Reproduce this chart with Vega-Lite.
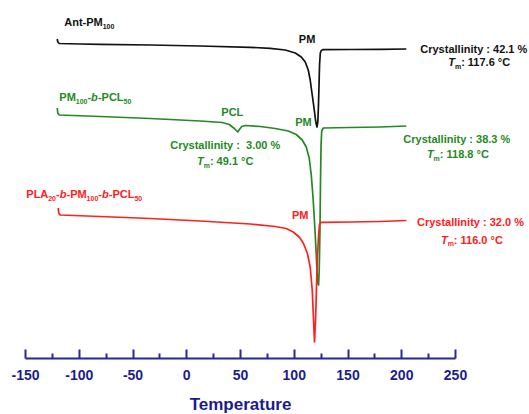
{
  "$schema": "https://vega.github.io/schema/vega-lite/v6.json",
  "width": 430,
  "height": 358,
  "autosize": {"type": "none"},
  "padding": {"left": 25, "right": 74, "top": 0, "bottom": 56},
  "background": "white",
  "config": {"view": {"stroke": null}},
  "datasets": {
    "curves": [
      {"s": "A", "t": -120.0, "v": 319}, {"s": "A", "t": -119.5, "v": 316}, {"s": "A", "t": -118.1, "v": 314.5},
      {"s": "A", "t": -98.6, "v": 314}, {"s": "A", "t": -80.0, "v": 313.7}, {"s": "A", "t": -33.5, "v": 313},
      {"s": "A", "t": 13.0, "v": 312}, {"s": "A", "t": 59.5, "v": 310.7}, {"s": "A", "t": 78.1, "v": 309.7},
      {"s": "A", "t": 92.1, "v": 308}, {"s": "A", "t": 101.4, "v": 305}, {"s": "A", "t": 107.0, "v": 301},
      {"s": "A", "t": 110.7, "v": 296}, {"s": "A", "t": 113.5, "v": 288}, {"s": "A", "t": 115.3, "v": 278},
      {"s": "A", "t": 117.2, "v": 263}, {"s": "A", "t": 119.1, "v": 248}, {"s": "A", "t": 120.5, "v": 236},
      {"s": "A", "t": 121.6, "v": 231}, {"s": "A", "t": 122.4, "v": 236}, {"s": "A", "t": 123.0, "v": 253},
      {"s": "A", "t": 123.5, "v": 273}, {"s": "A", "t": 124.0, "v": 293}, {"s": "A", "t": 124.7, "v": 305},
      {"s": "A", "t": 125.6, "v": 307.5}, {"s": "A", "t": 127.4, "v": 308.4}, {"s": "A", "t": 152.6, "v": 308.5},
      {"s": "A", "t": 180.5, "v": 308.7}, {"s": "A", "t": 204.7, "v": 309},

      {"s": "G", "t": -120.0, "v": 250}, {"s": "G", "t": -119.5, "v": 245}, {"s": "G", "t": -118.1, "v": 243},
      {"s": "G", "t": -80.0, "v": 241.5}, {"s": "G", "t": -33.5, "v": 239.5}, {"s": "G", "t": 13.0, "v": 237},
      {"s": "G", "t": 33.5, "v": 235.5}, {"s": "G", "t": 40.0, "v": 233.5}, {"s": "G", "t": 44.7, "v": 229.5},
      {"s": "G", "t": 47.9, "v": 226}, {"s": "G", "t": 49.8, "v": 229}, {"s": "G", "t": 51.6, "v": 231.5},
      {"s": "G", "t": 54.9, "v": 232.5}, {"s": "G", "t": 68.8, "v": 231.5}, {"s": "G", "t": 82.8, "v": 229.5},
      {"s": "G", "t": 94.9, "v": 227}, {"s": "G", "t": 102.3, "v": 223.5}, {"s": "G", "t": 107.9, "v": 218},
      {"s": "G", "t": 111.6, "v": 211}, {"s": "G", "t": 114.4, "v": 200}, {"s": "G", "t": 116.3, "v": 183},
      {"s": "G", "t": 118.1, "v": 158}, {"s": "G", "t": 120.0, "v": 123}, {"s": "G", "t": 121.4, "v": 93},
      {"s": "G", "t": 122.3, "v": 75}, {"s": "G", "t": 123.1, "v": 73}, {"s": "G", "t": 123.7, "v": 88},
      {"s": "G", "t": 124.4, "v": 128}, {"s": "G", "t": 124.9, "v": 178}, {"s": "G", "t": 125.4, "v": 213},
      {"s": "G", "t": 126.0, "v": 227}, {"s": "G", "t": 127.4, "v": 230}, {"s": "G", "t": 152.6, "v": 230.5},
      {"s": "G", "t": 180.5, "v": 231}, {"s": "G", "t": 204.7, "v": 232},

      {"s": "R", "t": -119.1, "v": 150}, {"s": "R", "t": -118.6, "v": 145}, {"s": "R", "t": -117.2, "v": 143},
      {"s": "R", "t": -80.0, "v": 141.5}, {"s": "R", "t": -33.5, "v": 139.5}, {"s": "R", "t": 13.0, "v": 137},
      {"s": "R", "t": 59.5, "v": 134}, {"s": "R", "t": 82.8, "v": 131.5}, {"s": "R", "t": 93.0, "v": 129.5},
      {"s": "R", "t": 99.5, "v": 126}, {"s": "R", "t": 105.1, "v": 121}, {"s": "R", "t": 108.8, "v": 115},
      {"s": "R", "t": 112.6, "v": 105}, {"s": "R", "t": 115.3, "v": 91}, {"s": "R", "t": 117.2, "v": 68},
      {"s": "R", "t": 118.4, "v": 38}, {"s": "R", "t": 119.3, "v": 16}, {"s": "R", "t": 120.3, "v": 38},
      {"s": "R", "t": 121.2, "v": 73}, {"s": "R", "t": 122.1, "v": 103}, {"s": "R", "t": 123.1, "v": 123},
      {"s": "R", "t": 124.0, "v": 134}, {"s": "R", "t": 125.6, "v": 135.7}, {"s": "R", "t": 152.6, "v": 136},
      {"s": "R", "t": 180.5, "v": 136.5}, {"s": "R", "t": 204.7, "v": 137.5}
    ],
    "main": [
      {"s": "A", "t": -113.5, "v": 335, "label": "Ant-PM"},
      {"s": "A", "t": 104.7, "v": 318, "label": "PM"},
      {"s": "A", "t": 217.7, "v": 308, "label": "Crystallinity : 42.1 %"},
      {"s": "A", "t": 255.7, "v": 295, "label": ": 117.6 °C"},
      {"s": "G", "t": -118.1, "v": 260, "label": "PM"},
      {"s": "G", "t": -91.9, "v": 260, "label": "-"},
      {"s": "G", "t": -82.2, "v": 260, "label": "-PCL"},
      {"s": "G", "t": 32.6, "v": 245, "label": "PCL"},
      {"s": "G", "t": 101.4, "v": 235, "label": "PM"},
      {"s": "G", "t": -14.9, "v": 212, "label": "Crystallinity : \u00a03.00 %"},
      {"s": "G", "t": 22.0, "v": 196, "label": ": 49.1 °C"},
      {"s": "G", "t": 201.9, "v": 218, "label": "Crystallinity : 38.3 %"},
      {"s": "G", "t": 235.9, "v": 203, "label": ": 118.8 °C"},
      {"s": "R", "t": -148.8, "v": 163, "label": "PLA"},
      {"s": "R", "t": -121.1, "v": 163, "label": "-"},
      {"s": "R", "t": -111.4, "v": 163, "label": "-PM"},
      {"s": "R", "t": -81.8, "v": 163, "label": "-"},
      {"s": "R", "t": -72.1, "v": 163, "label": "-PCL"},
      {"s": "R", "t": 98.4, "v": 142, "label": "PM"},
      {"s": "R", "t": 214.6, "v": 135.3, "label": "Crystallinity : 32.0 %"},
      {"s": "R", "t": 248.9, "v": 117.3, "label": ": 116.0 °C"}
    ],
    "ital": [
      {"s": "G", "t": -88.5, "v": 260, "label": "b"},
      {"s": "R", "t": -117.7, "v": 163, "label": "b"},
      {"s": "R", "t": -78.3, "v": 163, "label": "b"},
      {"s": "A", "t": 243.7, "v": 295, "label": "T"},
      {"s": "G", "t": 10.0, "v": 196, "label": "T"},
      {"s": "G", "t": 223.9, "v": 203, "label": "T"},
      {"s": "R", "t": 236.9, "v": 117.3, "label": "T"}
    ],
    "sub": [
      {"s": "A", "t": -77.7, "v": 331.5, "label": "100"},
      {"s": "A", "t": 249.95, "v": 291.5, "label": "m"},
      {"s": "G", "t": -102.8, "v": 256.5, "label": "100"},
      {"s": "G", "t": -58.3, "v": 256.5, "label": "50"},
      {"s": "G", "t": 16.2, "v": 192.5, "label": "m"},
      {"s": "G", "t": 230.1, "v": 199.5, "label": "m"},
      {"s": "R", "t": -128.4, "v": 159.5, "label": "20"},
      {"s": "R", "t": -92.7, "v": 159.5, "label": "100"},
      {"s": "R", "t": -48.2, "v": 159.5, "label": "50"},
      {"s": "R", "t": 243.2, "v": 113.8, "label": "m"}
    ]
  },
  "encoding": {
    "x": {
      "field": "t", "type": "quantitative",
      "scale": {"domain": [-150, 250], "nice": false, "zero": false},
      "axis": {
        "values": [-150, -125, -100, -75, -50, -25, 0, 25, 50, 75, 100, 125, 150, 175, 200, 225, 250],
        "labelExpr": "datum.value % 50 === 0 ? '' + datum.value : ''",
        "tickSize": {"condition": {"test": "datum.value % 50 === 0", "value": -9}, "value": -5},
        "grid": false,
        "domainColor": "#27279c", "domainWidth": 2,
        "tickColor": "#27279c", "tickWidth": 2,
        "labelColor": "#1c1c8e", "labelFont": "Liberation Sans", "labelFontSize": 14, "labelFontWeight": "bold",
        "labelPadding": 19, "labelFlush": false, "labelOverlap": false,
        "title": "Temperature", "titleColor": "#1c1c8e", "titleFont": "Liberation Sans",
        "titleFontSize": 17, "titleFontWeight": "bold", "titlePadding": 10
      }
    },
    "y": {
      "field": "v", "type": "quantitative",
      "scale": {"domain": [0, 358], "nice": false, "zero": false},
      "axis": null
    },
    "color": {
      "field": "s", "type": "nominal",
      "scale": {"domain": ["A", "G", "R"], "range": ["#111111", "#238a23", "#ff2020"]},
      "legend": null
    }
  },
  "layer": [
    {
      "data": {"name": "curves"},
      "mark": {"type": "line", "strokeWidth": 1.7, "strokeJoin": "round"},
      "encoding": {"detail": {"field": "s"}}
    },
    {
      "data": {"name": "main"},
      "mark": {"type": "text", "align": "left", "baseline": "middle", "font": "Liberation Sans", "fontSize": 11, "fontWeight": "bold"},
      "encoding": {"text": {"field": "label"}}
    },
    {
      "data": {"name": "ital"},
      "mark": {"type": "text", "align": "left", "baseline": "middle", "font": "Liberation Sans", "fontSize": 11, "fontWeight": "bold", "fontStyle": "italic"},
      "encoding": {"text": {"field": "label"}}
    },
    {
      "data": {"name": "sub"},
      "mark": {"type": "text", "align": "left", "baseline": "middle", "font": "Liberation Sans", "fontSize": 7, "fontWeight": "bold"},
      "encoding": {"text": {"field": "label"}}
    }
  ]
}
